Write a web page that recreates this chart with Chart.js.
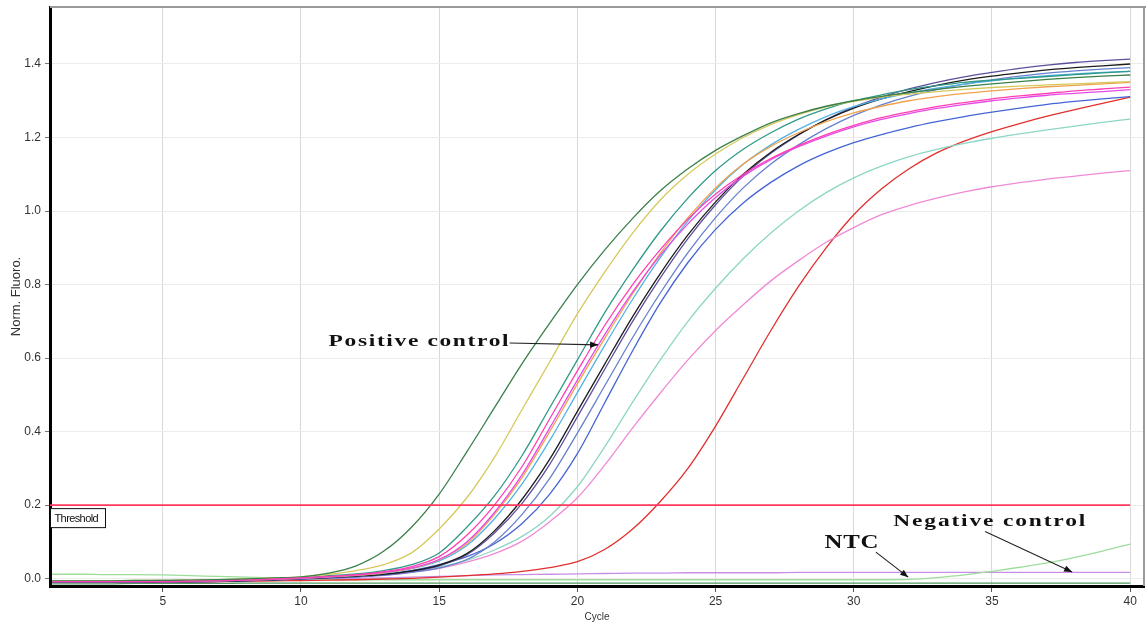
<!DOCTYPE html>
<html>
<head>
<meta charset="utf-8">
<script src="https://cdn.jsdelivr.net/npm/chart.js@4.4.1/dist/chart.umd.min.js"></script>
<style>
  html, body { margin: 0; padding: 0; background: #ffffff; }
  #wrap { width: 1146px; height: 624px; position: relative; }
</style>
</head>
<body>
<div id="wrap"><canvas id="amp" width="1146" height="624"></canvas></div>
<script>
// qPCR amplification curves: normalised fluorescence per cycle
const cycles = [1,2,3,4,5,6,7,8,9,10,11,12,13,14,15,16,17,18,19,20,21,22,23,24,25,26,27,28,29,30,31,32,33,34,35,36,37,38,39,40];
const xTicks = [5, 10, 15, 20, 25, 30, 35, 40];
const yTicks = [0, 0.2, 0.4, 0.6, 0.8, 1.0, 1.2, 1.4];
const yTickLabels = ['0.0', '0.2', '0.4', '0.6', '0.8', '1.0', '1.2', '1.4'];
const thresholdValue = 0.2;

const sampleA = [-0.006,-0.006,-0.006,-0.005,-0.005,-0.004,-0.003,-0.001,0.002,0.005,
  0.015,0.035,0.075,0.14,0.23,0.345,0.465,0.585,0.695,0.80,
  0.895,0.98,1.055,1.115,1.165,1.205,1.24,1.265,1.285,1.30,
  1.312,1.322,1.331,1.339,1.346,1.352,1.358,1.363,1.367,1.37];
const sampleB = [-0.006,-0.006,-0.006,-0.005,-0.005,-0.004,-0.003,-0.001,0.002,0.005,
  0.012,0.022,0.038,0.07,0.135,0.22,0.33,0.46,0.59,0.72,
  0.835,0.94,1.03,1.10,1.155,1.2,1.235,1.262,1.283,1.298,
  1.31,1.318,1.325,1.331,1.336,1.34,1.343,1.346,1.349,1.352];
const sampleC = [-0.007,-0.007,-0.007,-0.007,-0.007,-0.006,-0.005,-0.003,0.0,0.003,
  0.008,0.013,0.022,0.038,0.07,0.14,0.225,0.335,0.465,0.595,
  0.725,0.84,0.945,1.035,1.11,1.168,1.213,1.25,1.278,1.30,
  1.316,1.33,1.341,1.35,1.356,1.361,1.366,1.371,1.376,1.38];
const positiveControl = [-0.008,-0.008,-0.008,-0.008,-0.008,-0.007,-0.006,-0.004,-0.001,0.002,
  0.006,0.011,0.019,0.033,0.06,0.118,0.2,0.305,0.435,0.565,
  0.69,0.80,0.895,0.978,1.046,1.1,1.143,1.178,1.208,1.233,
  1.254,1.27,1.284,1.295,1.305,1.313,1.32,1.327,1.332,1.337];
const sampleD = [-0.008,-0.008,-0.008,-0.008,-0.008,-0.007,-0.006,-0.004,-0.002,0.001,
  0.005,0.01,0.017,0.029,0.052,0.1,0.18,0.283,0.41,0.54,
  0.665,0.78,0.88,0.965,1.037,1.095,1.14,1.175,1.204,1.229,
  1.249,1.265,1.279,1.29,1.30,1.308,1.315,1.32,1.325,1.33];
const sampleE = [-0.007,-0.007,-0.007,-0.007,-0.007,-0.006,-0.005,-0.004,-0.002,0.001,
  0.005,0.009,0.016,0.028,0.052,0.095,0.175,0.275,0.40,0.53,
  0.655,0.775,0.885,0.982,1.063,1.128,1.176,1.213,1.243,1.267,
  1.285,1.30,1.311,1.32,1.327,1.333,1.338,1.342,1.346,1.35];
const sampleF = [-0.008,-0.008,-0.008,-0.008,-0.007,-0.007,-0.006,-0.004,-0.002,0.001,
  0.004,0.009,0.015,0.027,0.048,0.09,0.163,0.258,0.376,0.506,
  0.636,0.76,0.873,0.973,1.058,1.127,1.18,1.222,1.257,1.284,
  1.305,1.321,1.334,1.345,1.354,1.362,1.368,1.373,1.377,1.38];
const sampleG = [-0.009,-0.009,-0.009,-0.009,-0.008,-0.008,-0.007,-0.005,-0.003,0.0,
  0.003,0.007,0.012,0.021,0.037,0.068,0.13,0.216,0.325,0.455,
  0.585,0.713,0.83,0.935,1.025,1.1,1.16,1.208,1.248,1.28,
  1.305,1.325,1.342,1.356,1.367,1.376,1.384,1.39,1.395,1.40];
const sampleH = [-0.01,-0.01,-0.01,-0.01,-0.009,-0.009,-0.008,-0.006,-0.003,0.0,
  0.003,0.006,0.011,0.02,0.035,0.065,0.124,0.205,0.311,0.44,
  0.571,0.70,0.818,0.925,1.017,1.095,1.157,1.207,1.249,1.283,
  1.31,1.332,1.35,1.365,1.377,1.388,1.397,1.404,1.409,1.413];
const sampleI = [-0.009,-0.009,-0.009,-0.009,-0.008,-0.008,-0.007,-0.005,-0.003,-0.001,
  0.002,0.005,0.009,0.017,0.029,0.052,0.10,0.175,0.273,0.396,
  0.526,0.656,0.777,0.887,0.982,1.063,1.128,1.18,1.224,1.26,
  1.289,1.312,1.33,1.345,1.357,1.367,1.375,1.381,1.386,1.39];
const sampleJ = [-0.008,-0.008,-0.008,-0.008,-0.008,-0.007,-0.006,-0.005,-0.003,-0.001,
  0.002,0.005,0.012,0.022,0.038,0.06,0.095,0.15,0.23,0.34,
  0.48,0.62,0.75,0.86,0.95,1.022,1.078,1.123,1.158,1.186,
  1.208,1.227,1.243,1.257,1.269,1.28,1.29,1.298,1.305,1.311];
const sampleK = [-0.006,-0.006,-0.006,-0.006,-0.005,-0.005,-0.004,-0.003,-0.001,0.001,
  0.003,0.006,0.012,0.02,0.032,0.05,0.078,0.115,0.17,0.25,
  0.36,0.48,0.595,0.7,0.79,0.87,0.94,1.0,1.05,1.09,
  1.122,1.148,1.168,1.184,1.198,1.21,1.221,1.231,1.241,1.25];
const sampleL = [-0.007,-0.007,-0.007,-0.006,-0.006,-0.005,-0.004,-0.003,-0.001,0.001,
  0.003,0.005,0.01,0.018,0.028,0.045,0.068,0.102,0.155,0.22,
  0.31,0.41,0.505,0.595,0.675,0.745,0.81,0.865,0.915,0.955,
  0.99,1.015,1.035,1.052,1.066,1.077,1.087,1.095,1.103,1.11];
const sampleM = [-0.01,-0.01,-0.01,-0.01,-0.009,-0.009,-0.008,-0.007,-0.006,-0.005,
  -0.004,-0.003,-0.001,0.001,0.004,0.008,0.013,0.02,0.03,0.046,
  0.08,0.135,0.21,0.30,0.415,0.545,0.675,0.795,0.9,0.99,
  1.06,1.115,1.158,1.19,1.216,1.238,1.258,1.276,1.293,1.31];
const ntc = [0.012,0.012,0.011,0.011,0.01,0.008,0.006,0.004,0.002,0.0,
  -0.002,-0.003,-0.003,-0.003,-0.003,-0.003,-0.003,-0.003,-0.003,-0.003,
  -0.003,-0.003,-0.003,-0.003,-0.003,-0.003,-0.003,-0.003,-0.003,-0.003,
  -0.003,-0.002,0.003,0.01,0.02,0.031,0.043,0.058,0.075,0.094];
const negativeControl = [-0.006,-0.006,-0.006,-0.006,-0.005,-0.005,-0.004,-0.003,-0.002,-0.001,
  0.0,0.001,0.002,0.004,0.006,0.008,0.01,0.011,0.012,0.013,
  0.014,0.015,0.015,0.016,0.016,0.016,0.016,0.017,0.017,0.017,
  0.017,0.017,0.017,0.017,0.017,0.017,0.017,0.017,0.017,0.017];
const blank = [-0.014,-0.014,-0.014,-0.013,-0.013,-0.013,-0.013,-0.012,-0.012,-0.012,
  -0.012,-0.012,-0.012,-0.012,-0.012,-0.012,-0.012,-0.012,-0.012,-0.012,
  -0.012,-0.012,-0.012,-0.012,-0.012,-0.012,-0.012,-0.012,-0.012,-0.012,
  -0.012,-0.012,-0.012,-0.012,-0.012,-0.012,-0.012,-0.012,-0.012,-0.012];

const X_MIN = 0.92, X_MAX = 40.5, Y_MIN = -0.02, Y_MAX = 1.555;

const series = [
  { label: 'Positive control', values: positiveControl, color: '#ff3fb4' },
  { label: 'A', values: sampleA, color: '#3a8049' },
  { label: 'B', values: sampleB, color: '#d6c95c' },
  { label: 'C', values: sampleC, color: '#2f9a88' },
  { label: 'D', values: sampleD, color: '#e64ae6' },
  { label: 'E', values: sampleE, color: '#f0a24e' },
  { label: 'F', values: sampleF, color: '#52b2e6' },
  { label: 'G', values: sampleG, color: '#1c1c1c' },
  { label: 'H', values: sampleH, color: '#5c509e' },
  { label: 'I', values: sampleI, color: '#6680cc' },
  { label: 'J', values: sampleJ, color: '#4564d4' },
  { label: 'K', values: sampleK, color: '#8cd6c4' },
  { label: 'L', values: sampleL, color: '#ee8ad6' },
  { label: 'M', values: sampleM, color: '#e0302e' },
  { label: 'NTC', values: ntc, color: '#9edc9a' },
  { label: 'Negative control', values: negativeControl, color: '#c88ee6' },
  { label: 'Blank', values: blank, color: '#4e9a5e' }
];

const datasets = [{
  label: 'Threshold',
  data: [{ x: X_MIN, y: thresholdValue }, { x: 40, y: thresholdValue }],
  borderColor: '#ff3a5c',
  borderWidth: 1.6,
  pointRadius: 0,
  tension: 0
}].concat(series.map(s => ({
  label: s.label,
  data: cycles.map((c, i) => ({ x: c, y: s.values[i] })),
  borderColor: s.color,
  borderWidth: 1.3,
  pointRadius: 0,
  cubicInterpolationMode: 'monotone'
})));

// text callouts, anchored in data units
const callouts = [
  { text: 'Positive control', x: 11.0, y: 0.646, width: 180, size: 17, from: [17.55, 0.641], to: [20.75, 0.636] },
  { text: 'Negative control', x: 31.43, y: 0.155, width: 192, size: 17, from: [34.75, 0.128], to: [37.9, 0.018] },
  { text: 'NTC', x: 28.94, y: 0.095, width: 54, size: 18, from: [30.8, 0.072], to: [31.97, 0.004] }
];

function drawArrow(ctx, x1, y1, x2, y2) {
  ctx.beginPath();
  ctx.moveTo(x1, y1);
  ctx.lineTo(x2, y2);
  ctx.strokeStyle = '#222';
  ctx.lineWidth = 1.1;
  ctx.stroke();
  const a = Math.atan2(y2 - y1, x2 - x1);
  const len = 8, half = 3.2;
  ctx.beginPath();
  ctx.moveTo(x2, y2);
  ctx.lineTo(x2 - len * Math.cos(a) + half * Math.sin(a), y2 - len * Math.sin(a) - half * Math.cos(a));
  ctx.lineTo(x2 - len * Math.cos(a) - half * Math.sin(a), y2 - len * Math.sin(a) + half * Math.cos(a));
  ctx.closePath();
  ctx.fillStyle = '#111';
  ctx.fill();
}

function drawWideText(ctx, text, font, left, cy, width) {
  ctx.save();
  ctx.font = font;
  ctx.textBaseline = 'middle';
  ctx.textAlign = 'left';
  const w = ctx.measureText(text).width;
  const sx = Math.min(1.38, width / w);
  const spacing = (width - w * sx) / Math.max(1, text.length - 1) / sx;
  if ('letterSpacing' in ctx) ctx.letterSpacing = spacing.toFixed(2) + 'px';
  ctx.translate(left, cy);
  ctx.scale(sx, 1);
  ctx.fillStyle = '#111';
  ctx.fillText(text, 0, 0);
  ctx.restore();
}

const overlay = {
  id: 'ampOverlay',
  afterDatasetsDraw(chart) {
    const { ctx, chartArea, scales } = chart;
    const xs = scales.x, ys = scales.y;
    ctx.save();
    // top and right frame
    ctx.strokeStyle = '#9a9a9a';
    ctx.lineWidth = 2;
    ctx.beginPath();
    ctx.moveTo(chartArea.left, chartArea.top);
    ctx.lineTo(chart.width, chartArea.top);
    ctx.moveTo(chartArea.right, chartArea.top);
    ctx.lineTo(chartArea.right, chartArea.bottom);
    ctx.stroke();

    // threshold tag
    const ty = ys.getPixelForValue(thresholdValue);
    const bx = chartArea.left + 0.5, by = ty + 3.5;
    ctx.fillStyle = '#ffffff';
    ctx.fillRect(bx, by, 55, 19);
    ctx.strokeStyle = '#111';
    ctx.lineWidth = 1;
    ctx.strokeRect(bx, by, 55, 19);
    ctx.save();
    ctx.font = '11px "Liberation Sans", Arial, sans-serif';
    ctx.textBaseline = 'middle';
    ctx.fillStyle = '#111';
    if ('letterSpacing' in ctx) ctx.letterSpacing = '-0.6px';
    ctx.fillText('Threshold', bx + 4, by + 10);
    ctx.restore();

    // callouts
    callouts.forEach(c => {
      const font = 'bold ' + c.size + 'px "Liberation Serif", "Times New Roman", serif';
      drawWideText(ctx, c.text, font, xs.getPixelForValue(c.x), ys.getPixelForValue(c.y), c.width);
      drawArrow(ctx, xs.getPixelForValue(c.from[0]), ys.getPixelForValue(c.from[1]),
                xs.getPixelForValue(c.to[0]), ys.getPixelForValue(c.to[1]));
    });
    ctx.restore();
  }
};

new Chart(document.getElementById('amp'), {
  type: 'line',
  data: { datasets },
  options: {
    responsive: false,
    animation: false,
    devicePixelRatio: 1,
    layout: { padding: { top: 7, right: 2, left: 0, bottom: 0 } },
    plugins: { legend: { display: false }, tooltip: { enabled: false } },
    scales: {
      x: {
        type: 'linear',
        min: X_MIN,
        max: X_MAX,
        afterBuildTicks: s => { s.ticks = xTicks.map(v => ({ value: v })); },
        afterFit: s => { s.height = 38; },
        grid: { color: '#d9d9d9', lineWidth: 1, tickLength: 6, tickColor: '#555' },
        border: { display: true, color: '#000', width: 3 },
        ticks: {
          color: '#333',
          padding: 2,
          font: { family: '"Liberation Sans", Arial, sans-serif', size: 12 },
          callback: v => String(v)
        },
        title: {
          display: true, text: 'Cycle', color: '#333',
          font: { family: '"Liberation Sans", Arial, sans-serif', size: 10 },
          padding: { top: 0, bottom: 1 }
        }
      },
      y: {
        type: 'linear',
        min: Y_MIN,
        max: Y_MAX,
        afterBuildTicks: s => { s.ticks = yTicks.map(v => ({ value: v })); },
        afterFit: s => { s.width = 50; s.paddingTop = 0; s.paddingBottom = 0; },
        grid: { color: '#ececec', lineWidth: 1, tickLength: 5, tickColor: '#777' },
        border: { display: true, color: '#000', width: 3 },
        ticks: {
          color: '#333',
          padding: 4,
          font: { family: '"Liberation Sans", Arial, sans-serif', size: 12 },
          callback: v => yTickLabels[yTicks.findIndex(t => Math.abs(t - v) < 1e-6)]
        },
        title: {
          display: true, text: 'Norm. Fluoro.', color: '#333',
          font: { family: '"Liberation Sans", Arial, sans-serif', size: 13 },
          padding: { top: 9, bottom: 0 }
        }
      }
    }
  },
  plugins: [overlay]
});
</script>
</body>
</html>
